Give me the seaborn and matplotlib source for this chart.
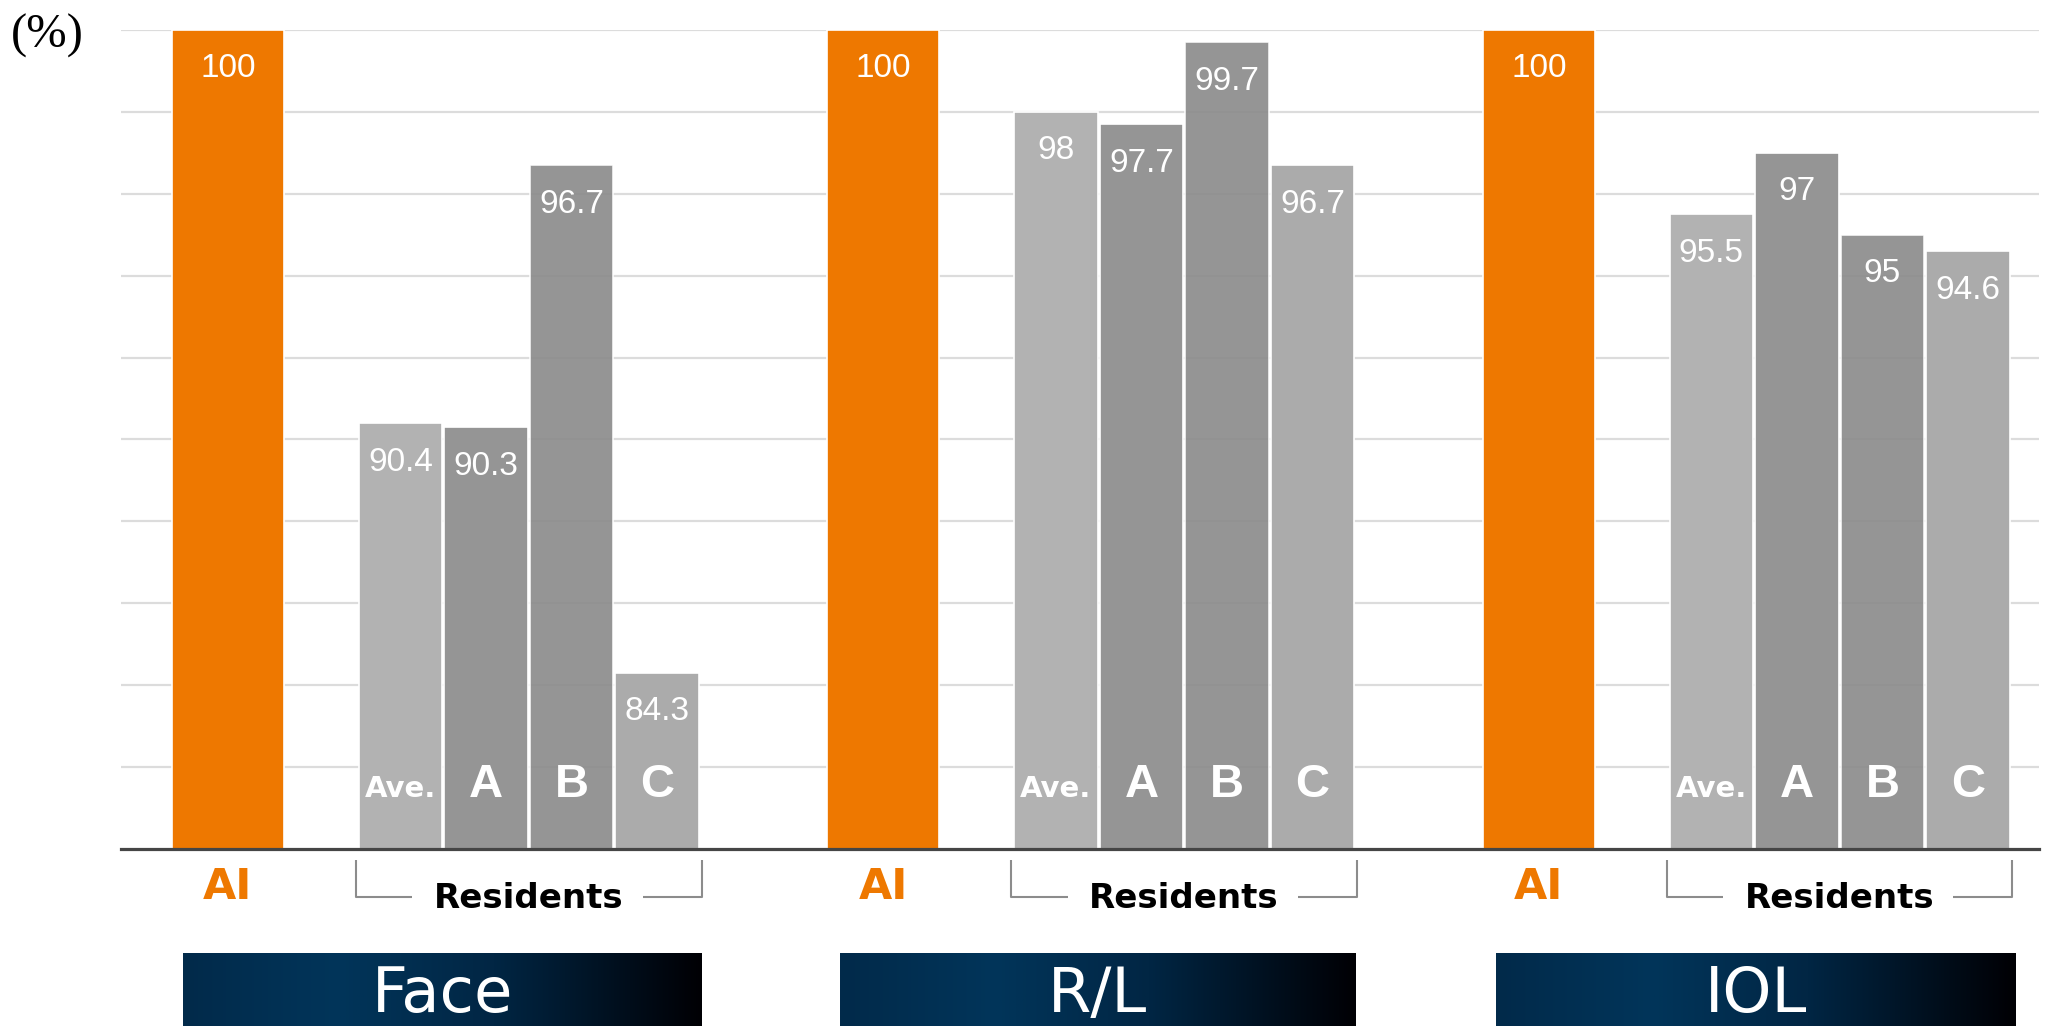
import numpy as np
import pandas as pd
import matplotlib
matplotlib.use("Agg")
import matplotlib.pyplot as plt
import seaborn as sns
from matplotlib.colors import LinearSegmentedColormap

# ---------------- data ----------------
tasks = ["Face", "R/L", "IOL"]
ai_scores = [100, 100, 100]
resident_labels = ["Ave.", "A", "B", "C"]
face_scores = [90.4, 90.3, 96.7, 84.3]
rl_scores = [98, 97.7, 99.7, 96.7]
iol_scores = [95.5, 97, 95, 94.6]
resident_scores = [face_scores, rl_scores, iol_scores]
y_ticks = [82, 84, 86, 88, 90, 92, 94, 96, 98, 100]

# ---------------- layout (positions only) ----------------
GROUP = 7.66      # distance between task groups
RES_OFF = 2.015   # offset of first resident bar from AI bar

ai_df = pd.DataFrame({
    "task": tasks,
    "score": ai_scores,
    "pos": [g * GROUP for g in range(len(tasks))],
})
rows = []
for g, t in enumerate(tasks):
    for k, who in enumerate(resident_labels):
        rows.append({"task": t, "who": who, "score": resident_scores[g][k],
                     "pos": g * GROUP + RES_OFF + k})
res_df = pd.DataFrame(rows)

ORANGE = "#EE7800"
palette = {"Ave.": "#B2B2B2", "A": "#959595", "B": "#8A8A8A", "C": "#ABABAB"}

sns.set_theme(style="white")
plt.rcParams["font.family"] = ["DejaVu Sans"]

W, H = 2069, 1026
fig = plt.figure(figsize=(W / 100, H / 100), dpi=100)
ax = fig.add_axes([121 / W, 1 - 849 / H, (2039 - 121) / W, (849 - 30) / H])

sns.barplot(data=ai_df, x="pos", y="score", native_scale=True,
            width=1.31 / GROUP, color=ORANGE, saturation=1, errorbar=None,
            edgecolor="white", linewidth=1.2, ax=ax)
sns.barplot(data=res_df, x="pos", y="score", hue="who", hue_order=resident_labels,
            palette=palette, native_scale=True, dodge=False, width=0.975,
            saturation=1, errorbar=None, edgecolor="white", linewidth=1.2,
            legend=False, ax=ax)

# B bars slightly translucent (gridlines show through as in reference)
for p in ax.patches:
    fc = p.get_facecolor()
    if abs(fc[0] - 0x8A / 255) < 0.01:
        p.set_alpha(0.9)

ax.set_xlim(-1.25, 2 * GROUP + RES_OFF + 3 + 0.83)
ax.set_ylim(80, 100)
ax.set_yticks(y_ticks)
ax.set_yticklabels([])
ax.set_xticks([])
ax.set_xlabel("")
ax.set_ylabel("")
ax.tick_params(length=0)
ax.yaxis.grid(True, color="#DCDCDC", linewidth=1.6)
ax.set_axisbelow(True)
for s in ["left", "right", "top"]:
    ax.spines[s].set_visible(False)
ax.spines["bottom"].set_color("#454545")
ax.spines["bottom"].set_linewidth(2.3)

# value labels
for df in (ai_df, res_df):
    for _, r in df.iterrows():
        ax.annotate(f"{r.score:g}", xy=(r.pos, r.score), xytext=(0, -28),
                    textcoords="offset points", ha="center", va="center",
                    color="white", fontsize=24, family="Liberation Sans")

trans = ax.get_xaxis_transform()
# labels inside bars
for _, r in res_df.iterrows():
    if r.who == "Ave.":
        ax.text(r.pos, 0.064, r.who, transform=trans, ha="center", va="baseline",
                color="white", fontsize=21, fontweight="bold", family="DejaVu Sans")
    else:
        ax.text(r.pos, 0.064, r.who, transform=trans, ha="center", va="baseline",
                color="white", fontsize=34, fontweight="bold", family="Liberation Sans")

# below-axis labels
axh = 849 - 30
for g, t in enumerate(tasks):
    xa = g * GROUP
    ax.text(xa, -(887 - 849) / axh, "AI", transform=trans, ha="center", va="center",
            color=ORANGE, fontsize=31, fontweight="bold", clip_on=False)
    x0 = g * GROUP + RES_OFF - 0.52
    x1 = g * GROUP + RES_OFF + 3 + 0.52
    xm = (x0 + x1) / 2
    ytop = -(860 - 849) / axh
    ybot = -(897 - 849) / axh
    lc = "#8C8C8C"
    ax.plot([x0, x0, x0 + 0.66], [ytop, ybot, ybot], transform=trans, color=lc,
            lw=1.5, clip_on=False, solid_capstyle="butt")
    ax.plot([x1 - 0.69, x1, x1], [ybot, ybot, ytop], transform=trans, color=lc,
            lw=1.5, clip_on=False, solid_capstyle="butt")
    ax.text(xm, -(898 - 849) / axh, "Residents", transform=trans, ha="center",
            va="center", color="black", fontsize=24.5, fontweight="bold", clip_on=False)

# (%) label
fig.text(11 / W, 1 - 36 / H, "(%)", ha="left", va="center", fontsize=35,
         family="Liberation Serif", color="black")

# gradient title boxes
cmap = LinearSegmentedColormap.from_list(
    "navy", [(0.0, "#022A4A"), (0.3, "#01355A"), (0.6, "#012644"), (1.0, "#000004")])
grad = np.linspace(0, 1, 256).reshape(1, -1)
boxes = [(183, 702), (840, 1356), (1496, 2016)]
for (bx0, bx1), t in zip(boxes, tasks):
    bax = fig.add_axes([bx0 / W, 0, (bx1 - bx0) / W, (1026 - 953) / H])
    bax.imshow(grad, aspect="auto", cmap=cmap, extent=[0, 1, 0, 1])
    bax.set_axis_off()
    bax.text(0.5, 0.42, t, ha="center", va="center", color="white", fontsize=45,
             family="DejaVu Sans", transform=bax.transAxes)

fig.savefig("out.png", dpi=100, facecolor="white")
